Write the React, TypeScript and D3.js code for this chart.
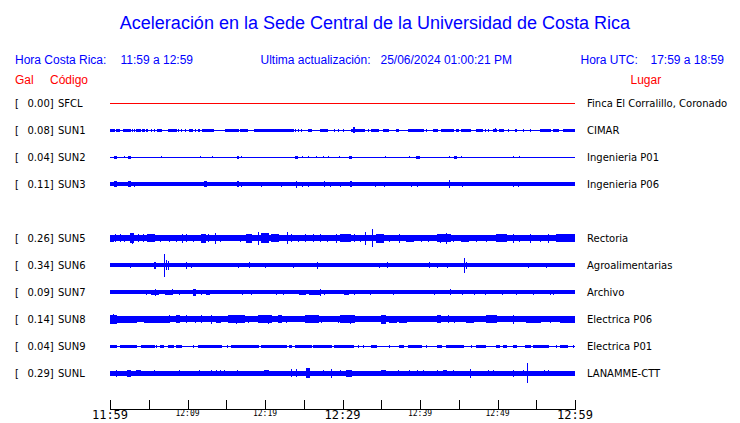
import React from 'react';
import * as d3 from 'd3';

const W = 740;
const H = 423;

// ---- data ----
const codes = ['SFCL', 'SUN1', 'SUN2', 'SUN3', 'SUN5', 'SUN6', 'SUN7', 'SUN8', 'SUN9', 'SUNL'];
const slots = [0, 1, 2, 3, 5, 6, 7, 8, 9, 10];
const peaks = [0.0, 0.08, 0.04, 0.11, 0.26, 0.34, 0.09, 0.14, 0.04, 0.29];
const places = [
  'Finca El Corralillo, Coronado',
  'CIMAR',
  'Ingenieria P01',
  'Ingenieria P06',
  'Rectoria',
  'Agroalimentarias',
  'Archivo',
  'Electrica P06',
  'Electrica P01',
  'LANAMME-CTT',
];
// continuous noise level of each trace (Gal)
const baseAmp = [0, 0, 0, 0.058, 0.09, 0.058, 0.058, 0.087, 0, 0.07];
// default level of bursts listed without a level (Gal)
const burstAmp = [0, 0.045, 0.04, 0.07, 0.1, 0.07, 0.07, 0.11, 0.04, 0.09];

// bursts: [start minute, end minute, level Gal?] (minutes after 11:59)
const sfclBursts: number[][] = [];
const sun1Bursts: number[][] = [
  [0, 0.6], [0.9, 1.2], [1.7, 2.2], [2.4, 2.7], [2.9, 2.9], [3.2, 3.2], [3.4, 3.9], [4.2, 4.4], [4.7, 4.9],
  [5.4, 5.4], [5.8, 5.8], [6.1, 6.7], [7.5, 8.0], [8.2, 8.6], [8.9, 8.9], [9.2, 9.2], [9.8, 9.8], [10.3, 10.6],
  [11.0, 11.0], [11.4, 11.6], [11.9, 13.3], [14.9, 16.6], [16.8, 17.8], [18.7, 21.7], [21.9, 23.7], [23.9, 23.9],
  [24.3, 24.3], [24.7, 24.7], [25.6, 26.0], [27.1, 28.1], [29.0, 29.0], [29.5, 29.5], [30.1, 30.1], [31.2, 32.9],
  [31.4, 31.5, 0.08], [33.3, 33.3], [33.8, 34.6], [35.3, 35.9], [37.0, 37.2], [38.5, 40.4], [40.8, 40.8],
  [41.7, 42.2], [42.8, 44.3], [44.7, 45.0], [45.4, 46.5], [47.3, 48.0], [48.4, 48.4], [48.8, 48.8], [49.5, 49.9],
  [49.7, 49.7, 0.06], [50.3, 50.8], [51.4, 51.4], [52.3, 52.5], [53.3, 53.3], [54.2, 54.2], [55.5, 56.8],
  [57.2, 57.9], [58.5, 59.4], [59.6, 60],
];
const sun2Bursts: number[][] = [
  [0.6, 0.9], [1.9, 1.9, 0.03], [2.4, 2.6], [6.6, 6.6, 0.03], [11.7, 11.7, 0.03], [13.2, 13.2, 0.03],
  [16.4, 16.6], [17.0, 17.0, 0.03], [23.9, 24.2], [24.9, 24.9, 0.03], [25.6, 25.6, 0.03], [26.7, 26.7, 0.03],
  [27.5, 27.5, 0.03], [28.2, 28.2, 0.03], [29.6, 29.6, 0.03], [30.9, 31.2], [35.5, 35.5, 0.03],
  [38.7, 38.7, 0.03], [39.6, 39.9], [43.8, 43.8, 0.03], [44.5, 44.7], [45.4, 45.4, 0.03], [52.0, 52.0, 0.03],
  [52.9, 52.9, 0.03],
];
const sun3Bursts: number[][] = [
  [0.6, 0.9, 0.09], [2.4, 2.6, 0.09], [3.1, 3.1, 0.07], [12.2, 12.5, 0.08], [16.5, 16.6, 0.09], [17.0, 17.0, 0.07],
  [19.6, 19.6, 0.07], [22.1, 22.1, 0.07], [24.0, 24.0, 0.1], [24.9, 24.9, 0.07], [25.6, 25.6, 0.07],
  [27.7, 27.7, 0.08], [28.4, 28.4, 0.07], [29.7, 29.7, 0.07], [31.0, 31.1, 0.09], [34.2, 34.2, 0.07],
  [35.4, 35.4, 0.07], [38.9, 38.9, 0.07], [39.7, 39.7, 0.07], [43.8, 43.8, 0.11], [45.5, 45.5, 0.07],
  [52.0, 52.0, 0.07], [52.7, 52.7, 0.07],
];
const sun5Bursts: number[][] = [
  [0, 0.4, 0.097], [0.65, 0.65, 0.116], [1.3, 1.3, 0.116], [1.9, 1.9, 0.097], [2.6, 3.0, 0.145], [2.9, 2.9, 0.155],
  [3.7, 3.7, 0.116], [4.3, 4.3, 0.116], [4.9, 5.8, 0.116], [6.5, 6.5, 0.097], [7.7, 7.7, 0.097], [8.6, 8.6, 0.097],
  [9.3, 9.3, 0.135], [9.9, 9.9, 0.116], [10.8, 10.8, 0.097], [11.8, 12.3, 0.135], [12.7, 12.7, 0.116],
  [13.6, 13.6, 0.155], [14.2, 14.2, 0.097], [16.8, 16.8, 0.097], [17.6, 18.3, 0.135], [19.2, 19.2, 0.193],
  [19.6, 20.4, 0.145], [20.9, 21.7, 0.116], [22.9, 22.9, 0.174], [23.4, 23.4, 0.116], [24.3, 24.3, 0.097],
  [25.2, 25.2, 0.116], [26.2, 26.2, 0.116], [27.1, 27.1, 0.116], [28.1, 28.1, 0.097], [29.2, 29.2, 0.135],
  [29.9, 29.9, 0.116], [29.7, 31.0, 0.116], [31.6, 31.6, 0.116], [32.3, 32.3, 0.097], [33.0, 33.0, 0.193],
  [33.85, 33.85, 0.26], [34.4, 35.3, 0.135], [36.1, 36.1, 0.097], [37.4, 37.4, 0.135], [38.3, 39.1, 0.097],
  [40.2, 40.2, 0.097], [41.1, 41.1, 0.097], [42.2, 43.9, 0.116], [42.6, 42.6, 0.135], [43.4, 43.4, 0.155],
  [44.3, 44.3, 0.097], [45.4, 46.2, 0.097], [47.3, 47.3, 0.097], [48.6, 48.6, 0.097], [49.9, 51.2, 0.116],
  [52.0, 52.0, 0.135], [52.9, 52.9, 0.097], [54.2, 54.2, 0.135], [55.5, 55.5, 0.097], [56.6, 56.6, 0.135],
  [57.6, 60, 0.116],
];
const sun6Bursts: number[][] = [
  [2.6, 2.6, 0.07], [5.7, 5.9, 0.1], [7.0, 7.0, 0.34], [7.3, 7.3, 0.15], [7.6, 7.6, 0.13], [9.9, 9.9, 0.1],
  [10.5, 10.5, 0.07], [16.6, 16.6, 0.07], [18.0, 18.0, 0.08], [20.0, 20.0, 0.07], [23.7, 23.7, 0.07],
  [26.8, 26.8, 0.1], [34.8, 34.8, 0.07], [35.8, 35.8, 0.08], [41.2, 41.2, 0.08], [42.2, 42.2, 0.07],
  [43.5, 43.5, 0.07], [45.7, 45.7, 0.22], [46.0, 46.0, 0.1], [54.0, 54.0, 0.07], [56.3, 56.3, 0.07],
];
const sun7Bursts: number[][] = [
  [4.7, 4.7, 0.07], [5.4, 6.2, 0.077], [5.9, 5.9, 0.097], [7.1, 8.0, 0.068], [8.0, 8.0, 0.087], [9.0, 9.0, 0.068],
  [10.8, 11.0, 0.097], [11.8, 11.8, 0.077], [12.5, 12.9, 0.07], [17.1, 17.1, 0.07], [18.3, 18.3, 0.068],
  [21.5, 21.5, 0.07], [22.4, 22.4, 0.068], [24.5, 25.2, 0.068], [25.8, 27.1, 0.07], [27.2, 27.2, 0.097],
  [27.7, 27.7, 0.07], [30.3, 30.8, 0.068], [31.6, 31.6, 0.07], [33.6, 33.6, 0.068], [36.6, 36.6, 0.07],
  [41.9, 41.9, 0.068], [44.0, 44.0, 0.09], [45.5, 45.5, 0.068], [47.0, 47.0, 0.068], [48.5, 48.5, 0.068],
  [50.6, 50.6, 0.07], [52.5, 52.5, 0.068], [54.6, 54.6, 0.068], [56.8, 56.8, 0.07], [57.2, 57.2, 0.068],
];
const sun8Bursts: number[][] = [
  [0, 0.9, 0.135], [0.4, 0.4, 0.14], [1.0, 3.4, 0.106], [4.5, 7.5, 0.106], [7.7, 7.7, 0.116], [8.6, 9.0, 0.116],
  [9.9, 9.9, 0.116], [11.0, 11.0, 0.106], [11.8, 11.8, 0.116], [13.1, 13.1, 0.135], [13.8, 14.2, 0.106],
  [15.3, 17.4, 0.116], [16.3, 16.3, 0.135], [17.9, 17.9, 0.106], [19.1, 20.9, 0.116], [20.4, 20.4, 0.126],
  [21.7, 22.1, 0.116], [22.8, 22.8, 0.106], [25.2, 26.9, 0.116], [27.3, 27.3, 0.106], [29.5, 29.5, 0.106],
  [29.7, 31.6, 0.116], [31.0, 31.0, 0.126], [35.0, 35.5, 0.135], [36.1, 37.0, 0.106], [37.4, 38.3, 0.106],
  [42.2, 42.6, 0.116], [43.7, 43.7, 0.116], [44.5, 44.5, 0.106], [46.0, 46.9, 0.106], [48.6, 49.9, 0.116],
  [52.0, 52.0, 0.126], [53.8, 55.5, 0.106], [56.8, 56.8, 0.106], [58.1, 60, 0.106],
];
const sun9Bursts: number[][] = [
  [0, 0.9], [1.3, 3.4], [4.1, 5.8], [6.0, 6.0], [6.5, 6.9], [7.5, 8.0], [8.2, 8.2], [8.6, 9.2], [10.8, 10.8],
  [11.4, 14.4], [15.1, 15.1], [15.7, 19.1], [19.6, 22.8], [23.2, 23.4], [23.9, 25.2], [25.4, 26.0], [26.2, 28.6],
  [29.0, 31.4], [32.1, 32.1], [32.7, 32.7], [33.8, 34.4], [36.1, 36.1], [37.4, 37.9], [38.5, 40.2], [40.9, 40.9],
  [42.2, 42.8], [43.4, 45.6], [46.7, 46.7], [47.3, 48.4], [49.9, 50.3], [50.8, 51.2], [52.0, 52.5], [53.6, 54.2],
  [54.6, 55.5], [55.7, 56.6], [57.6, 57.6], [58.1, 59.0], [59.8, 59.8],
];
const sunlBursts: number[][] = [
  [0.9, 0.9, 0.1], [2.2, 2.6, 0.1], [3.4, 3.9, 0.09], [5.8, 5.8, 0.09], [9.0, 9.0, 0.09], [11.6, 11.6, 0.09],
  [13.1, 13.1, 0.09], [13.8, 13.8, 0.09], [14.3, 14.3, 0.09], [14.8, 14.8, 0.09], [16.5, 16.5, 0.09],
  [19.9, 20.4, 0.09], [23.4, 23.4, 0.116], [24.1, 24.1, 0.116], [25.4, 25.7, 0.145], [27.5, 27.5, 0.09],
  [28.6, 28.6, 0.126], [29.7, 29.7, 0.09], [30.5, 31.2, 0.1], [35.0, 35.5, 0.09], [37.2, 37.2, 0.09],
  [38.7, 38.7, 0.09], [39.7, 39.7, 0.09], [40.4, 40.4, 0.09], [42.2, 42.2, 0.09], [43.0, 43.4, 0.09],
  [44.3, 44.3, 0.09], [46.5, 46.5, 0.135], [48.8, 48.8, 0.09], [49.5, 49.5, 0.09], [52.0, 52.0, 0.1],
  [53.3, 53.3, 0.09], [53.9, 53.9, 0.29], [56.1, 56.1, 0.09], [56.6, 56.6, 0.09],
];
const bursts = [sfclBursts, sun1Bursts, sun2Bursts, sun3Bursts, sun5Bursts, sun6Bursts, sun7Bursts, sun8Bursts, sun9Bursts, sunlBursts];
const traceColors = ['#ff0000', '#0000ff', '#0000ff', '#0000ff', '#0000ff', '#0000ff', '#0000ff', '#0000ff', '#0000ff', '#0000ff'];

const tickMinutes = [0, 5, 10, 15, 20, 25, 30, 35, 40, 45, 50, 55, 60];
const labelMinutes = [0, 10, 20, 30, 40, 50, 60];
const labelTexts = ['11:59', '12:09', '12:19', '12:29', '12:39', '12:49', '12:59'];
const bigLabels = ['11:59', '12:29', '12:59'];

const title = 'Aceleración en la Sede Central de la Universidad de Costa Rica';

// ---- scales ----
const x = d3.scaleLinear().domain([0, 60]).range([110, 575]);
const yRow = d3.scaleLinear().domain([0, 10]).range([103, 373]);
const ampPx = d3.scaleLinear().domain([0, 1]).range([0, 69]); // full height of a trace

function tracePath(i: number): string {
  const c0 = Math.round(x(0));
  const c1 = Math.round(x(60));
  const n = c1 - c0;
  const env = new Array(n).fill(baseAmp[i]);
  for (const b of bursts[i]) {
    const amp = b.length > 2 ? b[2] : burstAmp[i];
    const s = Math.max(0, Math.floor(x(b[0])) - c0);
    const e = Math.min(n - 1, Math.floor(x(b[1])) - c0);
    for (let k = s; k <= e; k++) env[k] = Math.max(env[k], amp);
  }
  const cy = yRow(slots[i]);
  const p = d3.path();
  let k = 0;
  while (k < n) {
    const h = Math.max(1, Math.round(ampPx(env[k])));
    let j = k + 1;
    while (j < n && Math.max(1, Math.round(ampPx(env[j]))) === h) j++;
    const top = Math.round(cy - h / 2);
    p.rect(c0 + k, top, j - k, h);
    k = j;
  }
  return p.toString();
}

export default function App() {
  const blue = '#0000ff';
  const red = '#ff0000';
  const sans = '"Liberation Sans", Arial, sans-serif';
  const dv = '"DejaVu Sans", sans-serif';
  const mono = '"DejaVu Sans Mono", monospace';
  const axisY = 409;
  return (
    <svg width={W} height={H} style={{ position: 'absolute', left: 0, top: 0, background: '#fff' }}>
      <rect width={W} height={H} fill="#fff" />
      <text x={375} y={29} textAnchor="middle" fontFamily={sans} fontSize={18} fill={blue}>{title}</text>

      <g fontFamily={sans} fontSize={12} fill={blue}>
        <text x={15} y={64}>Hora Costa Rica:</text>
        <text x={120.5} y={64}>11:59 a 12:59</text>
        <text x={260.5} y={64}>Ultima actualización:</text>
        <text x={380.5} y={64}>25/06/2024 01:00:21 PM</text>
        <text x={580.5} y={64}>Hora UTC:</text>
        <text x={650.5} y={64}>17:59 a 18:59</text>
      </g>
      <g fontFamily={sans} fontSize={12} fill={red}>
        <text x={15} y={84}>Gal</text>
        <text x={50} y={84}>Código</text>
        <text x={630.5} y={84}>Lugar</text>
      </g>

      {codes.map((code, i) => {
        const cy = yRow(slots[i]);
        return (
          <g key={code}>
            <path d={tracePath(i)} fill={traceColors[i]} shapeRendering="crispEdges" />
            <g fontFamily={dv} fontSize={10} fill="#000">
              <text x={15} y={cy + 4}>[</text>
              <text x={27.5} y={cy + 4}>{peaks[i].toFixed(2)}]</text>
              <text x={58} y={cy + 4}>{code}</text>
              <text x={587} y={cy + 4}>{places[i]}</text>
            </g>
          </g>
        );
      })}

      <g shapeRendering="crispEdges" stroke="#000" strokeWidth={1}>
        <line x1={x(0)} x2={x(60) + 1} y1={axisY + 0.5} y2={axisY + 0.5} />
        {tickMinutes.map((m) => (
          <line key={m} x1={Math.round(x(m)) + 0.5} x2={Math.round(x(m)) + 0.5} y1={axisY - 9} y2={axisY} />
        ))}
      </g>
      {labelMinutes.map((m, i) => {
        const big = bigLabels.includes(labelTexts[i]);
        return (
          <text
            key={m}
            x={x(m)}
            y={big ? 419 : 416}
            textAnchor="middle"
            fontFamily={mono}
            fontSize={big ? 12 : 8}
            fill="#000"
          >
            {labelTexts[i]}
          </text>
        );
      })}
    </svg>
  );
}
